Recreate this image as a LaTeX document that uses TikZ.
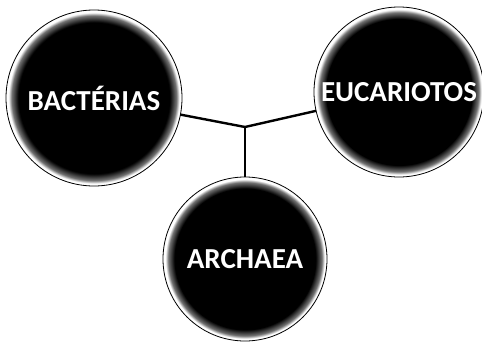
\documentclass[tikz,border=0pt]{standalone}
\usepackage{fontspec}
\setmainfont{Carlito}
\usepackage{tikz}

\pgfdeclareradialshading{halo}{\pgfpoint{0bp}{0bp}}{color(0bp)=(black); color(21.5bp)=(black); color(23.4bp)=(black!55); color(24.3bp)=(white); color(50bp)=(white)}

\begin{document}
\begin{tikzpicture}[x=1pt, y=1pt,
	grupo/.style={circle, shading=halo, draw=black, line width=0.8pt, inner sep=0pt, outer sep=0pt, text=white, font=\fontsize{29}{32}\selectfont\bfseries},
	ramo/.style={line width=2.4pt}]
	\useasboundingbox (0,0) rectangle (482,341);
	\node [grupo, minimum size=176pt] (bact) at (94,243) {BACTÉRIAS};
	\node [grupo, minimum size=170pt] (euca) at (399,249) {EUCARIOTOS};
	\node [grupo, minimum size=164pt] (arch) at (245,82) {ARCHAEA};
	\coordinate (junction) at (245,214);
	\draw [ramo] (bact) -- (junction);
	\draw [ramo] (euca) -- (junction);
	\draw [ramo] (arch) -- (junction);
\end{tikzpicture}
\end{document}
